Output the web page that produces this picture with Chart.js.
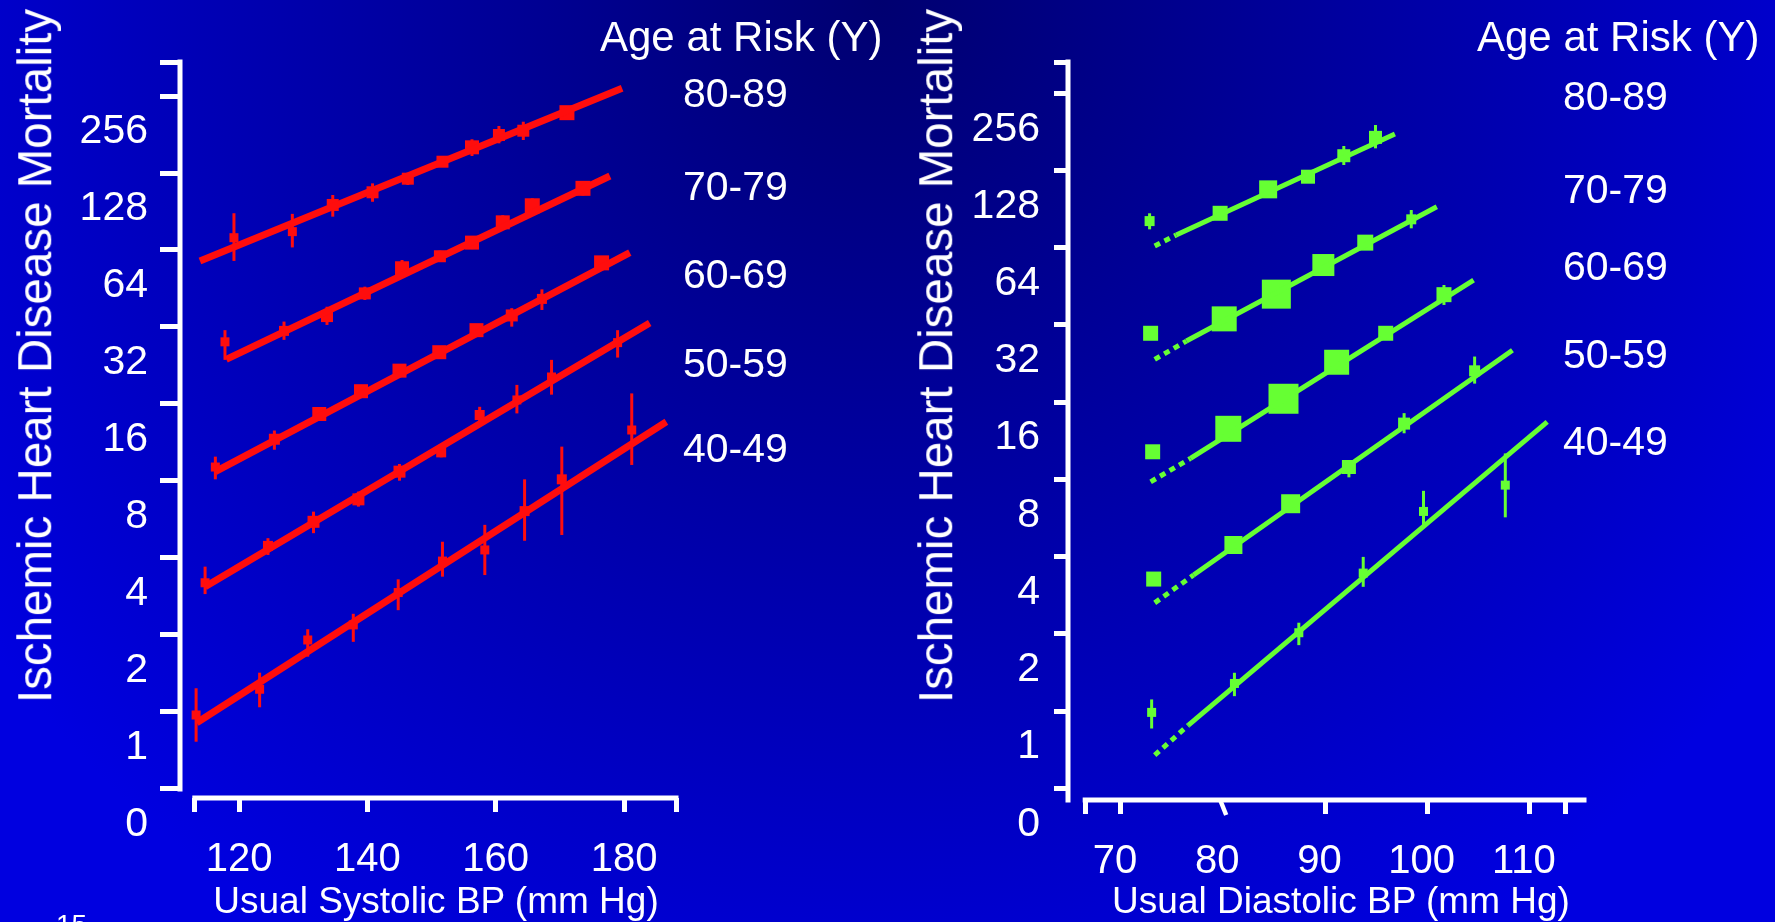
<!DOCTYPE html>
<html>
<head>
<meta charset="utf-8">
<title>Ischemic Heart Disease Mortality vs Usual BP</title>
<script src="https://cdn.jsdelivr.net/npm/chart.js@4.4.1/dist/chart.umd.min.js"></script>
<style>
  html, body { margin: 0; padding: 0; }
  body {
    width: 1775px; height: 922px; overflow: hidden; position: relative;
    background: radial-gradient(circle 1100px at 880px 0px, #000070 0%, #0000e0 100%);
    font-family: 'Liberation Sans', Arial, sans-serif; color: #fff;
  }
  canvas { position: absolute; top: 0; }
  #sbpChart { left: 0; }
  #dbpChart { left: 880px; }
  .lbl { position: absolute; white-space: nowrap; line-height: 1; }
</style>
</head>
<body>
<canvas id="sbpChart" width="700" height="922"></canvas>
<canvas id="dbpChart" width="895" height="922"></canvas>

<script>
// ---- Datos ----
const ageGroups = ['80-89', '70-79', '60-69', '50-59', '40-49'];
const yTickValues = [0.5, 1, 2, 4, 8, 16, 32, 64, 128, 256];
const yTickLabels = ['0', '1', '2', '4', '8', '16', '32', '64', '128', '256'];
const sbpTickValues = [113.1, 120, 140, 160, 180, 188.1];
const sbpTickLabels = ['', '120', '140', '160', '180', ''];
const dbpTickValues = [66.5, 70, 80, 90, 100, 110, 113.5];
const dbpTickLabels = ['', '70', '80', '90', '100', '110', ''];

// Sistolica
const sbp80x = [119.2, 128.3, 134.6, 140.8, 146.3, 151.7, 156.3, 160.5, 164.3, 171.1];
const sbp80y = [71.5, 75.5, 96.0, 107.6, 121.6, 141.7, 161.3, 180.2, 187.3, 220.3];
const sbp80lo = [58.0, 65.5, 86.4, 98.8, 114.9, 135.5, 149.2, 167.2, 172.3, 206.3];
const sbp80hi = [89.1, 88.6, 105.0, 116.6, 127.6, 148.2, 173.4, 195.4, 203.1, 232.5];
const sbp80fitX = [113.9, 179.7];
const sbp80fitY = [58.0, 274.4];

const sbp70x = [117.8, 127.0, 133.7, 139.6, 145.4, 151.3, 156.3, 161.1, 165.7, 173.6];
const sbp70y = [28.0, 30.9, 35.3, 43.3, 54.3, 60.5, 68.4, 82.1, 95.3, 111.5];
const sbp70lo = [23.8, 28.5, 32.6, 40.8, 50.3, 57.5, 64.5, 77.0, 87.7, 104.5];
const sbp70hi = [31.1, 33.6, 38.4, 46.0, 58.5, 63.6, 72.5, 87.5, 101.9, 118.5];
const sbp70fitX = [118.0, 177.8];
const sbp70fitY = [23.9, 124.6];

const sbp60x = [116.3, 125.5, 132.5, 139.0, 145.0, 151.2, 157.0, 162.5, 167.2, 176.5];
const sbp60y = [9.07, 11.65, 14.62, 17.95, 21.6, 25.5, 31.1, 35.5, 41.2, 57.0];
const sbp60lo = [8.12, 10.6, 13.9, 17.0, 20.6, 24.3, 29.6, 32.1, 37.3, 54.0];
const sbp60hi = [9.96, 12.6, 15.4, 19.0, 22.7, 26.8, 32.8, 37.9, 44.9, 60.0];
const sbp60fitX = [116.3, 180.9];
const sbp60fitY = [8.70, 62.5];

const sbp50x = [114.7, 124.5, 131.6, 138.6, 145.0, 151.5, 157.5, 163.3, 168.7, 179.0];
const sbp50y = [3.20, 4.46, 5.54, 6.78, 8.70, 10.35, 14.49, 16.59, 20.4, 27.8];
const sbp50lo = [2.89, 4.11, 5.0, 6.35, 8.02, 9.9, 13.5, 14.7, 17.4, 24.3];
const sbp50hi = [3.70, 4.78, 6.07, 7.27, 9.32, 10.8, 15.6, 19.0, 23.8, 31.1];
const sbp50fitX = [114.7, 184.0];
const sbp50fitY = [3.09, 33.2];

const sbp40x = [113.3, 123.2, 130.7, 137.8, 144.8, 151.7, 158.3, 164.5, 170.3, 181.2];
const sbp40y = [0.973, 1.227, 1.912, 2.19, 2.93, 3.89, 4.30, 6.10, 8.12, 12.66];
const sbp40lo = [0.765, 1.043, 1.645, 1.88, 2.50, 3.38, 3.43, 4.67, 4.92, 9.24];
const sbp40hi = [1.238, 1.424, 2.105, 2.42, 3.30, 4.63, 5.39, 8.12, 10.9, 17.6];
const sbp40fitX = [113.4, 186.6];
const sbp40fitY = [0.908, 13.64];

// Diastolica
const dbp80x = [72.8, 79.7, 84.4, 88.3, 91.8, 94.9];
const dbp80y = [81.3, 87.2, 108.1, 121.1, 146.2, 172.4];
const dbp80lo = [75.5, null, null, null, 134.5, 156.2];
const dbp80hi = [87.2, null, null, null, 159.5, 192.6];
const dbp80dashX = [73.3, 75.4];
const dbp80dashY = [65.0, 71.8];
const dbp80fitX = [75.4, 96.8];
const dbp80fitY = [71.8, 177.7];

const dbp70x = [72.9, 80.1, 85.2, 89.8, 93.9, 98.4];
const dbp70y = [29.7, 33.8, 42.2, 54.8, 67.0, 82.6];
const dbp70lo = [null, null, null, null, null, 76.2];
const dbp70hi = [null, null, null, null, null, 89.8];
const dbp70dashX = [73.3, 76.4];
const dbp70dashY = [23.5, 27.7];
const dbp70fitX = [76.4, 100.9];
const dbp70fitY = [27.7, 92.5];

const dbp60x = [73.1, 80.5, 85.9, 91.1, 95.9, 101.6];
const dbp60y = [10.25, 12.6, 16.5, 22.9, 29.7, 42.0];
const dbp60lo = [null, null, null, null, null, 38.3];
const dbp60hi = [null, null, null, null, null, 45.8];
const dbp60dashX = [72.9, 76.8];
const dbp60dashY = [7.83, 9.66];
const dbp60fitX = [76.8, 104.5];
const dbp60fitY = [9.66, 47.9];

const dbp50x = [73.2, 81.0, 86.6, 92.3, 97.7, 104.6];
const dbp50y = [3.27, 4.44, 6.43, 8.94, 13.2, 21.2];
const dbp50lo = [null, null, null, 8.15, 12.1, 18.9];
const dbp50hi = [null, null, null, 9.37, 14.5, 24.1];
const dbp50dashX = [73.3, 77.1];
const dbp50dashY = [2.64, 3.39];
const dbp50fitX = [77.1, 108.3];
const dbp50fitY = [3.39, 25.5];

const dbp40x = [73.0, 81.1, 87.4, 93.7, 99.6, 107.6];
const dbp40y = [0.988, 1.281, 2.02, 3.45, 6.00, 7.60];
const dbp40lo = [0.855, 1.143, 1.807, 3.05, 5.31, 5.69];
const dbp40hi = [1.110, 1.41, 2.21, 3.99, 7.22, 10.1];
const dbp40dashX = [73.3, 76.6];
const dbp40dashY = [0.673, 0.881];
const dbp40fitX = [76.6, 111.7];
const dbp40fitY = [0.881, 13.4];

// ---- Estilo ----
const RED = '#ff0d0d';
const GREEN = '#66ff33';

Chart.defaults.font.family = "'Liberation Sans', Arial, sans-serif";
Chart.defaults.color = '#fff';
Chart.defaults.animation = false;

function pts(xs, ys) {
    return xs.map((x, i) => ({ x: x, y: ys[i] }));
}

// lineas de los ejes (no se tocan en la esquina)
const axisLines = {
    id: 'axisLines',
    afterDraw(chart, args, opts) {
        const { ctx, chartArea } = chart;
        const xs = chart.scales.x, ys = chart.scales.y;
        ctx.save();
        ctx.strokeStyle = '#fff';
        ctx.lineWidth = 5;
        ctx.beginPath();
        ctx.moveTo(chartArea.left, chartArea.top - 2.5);
        ctx.lineTo(chartArea.left, ys.getPixelForValue(opts.yEnd) + 2.5);
        const x0 = xs.getPixelForValue(xs.ticks[0].value);
        ctx.moveTo(x0 - 2.5, chartArea.bottom);
        ctx.lineTo(chartArea.right + 2.5, chartArea.bottom);
        ctx.stroke();
        if (opts.breakAt != null) {
            const bx = xs.getPixelForValue(opts.breakAt);
            ctx.lineWidth = 4.5;
            ctx.beginPath();
            ctx.moveTo(bx - 3, chartArea.bottom);
            ctx.lineTo(bx + 3, chartArea.bottom + 15);
            ctx.stroke();
        }
        ctx.restore();
    }
};

// barras de error verticales
const errorBars = {
    id: 'errorBars',
    beforeDatasetsDraw(chart) {
        const { ctx } = chart;
        const xs = chart.scales.x, ys = chart.scales.y;
        chart.data.datasets.forEach(ds => {
            if (!ds.errLo) return;
            ctx.save();
            ctx.strokeStyle = ds.backgroundColor;
            ctx.lineWidth = ds.errWidth;
            ds.data.forEach((p, i) => {
                const lo = ds.errLo[i], hi = ds.errHi[i];
                if (lo == null) return;
                const px = xs.getPixelForValue(p.x);
                ctx.beginPath();
                ctx.moveTo(px, ys.getPixelForValue(lo));
                ctx.lineTo(px, ys.getPixelForValue(hi));
                ctx.stroke();
            });
            ctx.restore();
        });
    }
};

function makeChart(id, cfg) {
    const datasets = [];
    cfg.series.forEach(s => {
        if (s.dashX) {
            datasets.push({
                data: pts(s.dashX, s.dashY), showLine: true, borderColor: cfg.color,
                borderWidth: cfg.fitWidth, borderDash: [6, 5], pointRadius: 0
            });
        }
        datasets.push({
            data: pts(s.fitX, s.fitY), showLine: true, borderColor: cfg.color,
            borderWidth: cfg.fitWidth, pointRadius: 0
        });
        datasets.push({
            label: s.label, data: pts(s.x, s.y), errLo: s.lo, errHi: s.hi, errWidth: cfg.errWidth,
            pointStyle: 'rect', pointRadius: s.boxes.map(b => b / Math.SQRT2),
            backgroundColor: cfg.color, borderWidth: 0
        });
    });

    return new Chart(document.getElementById(id), {
        type: 'scatter',
        data: { datasets: datasets },
        plugins: [errorBars, axisLines],
        options: {
            responsive: false,
            events: [],
            layout: { padding: cfg.padding },
            plugins: {
                legend: { display: false },
                tooltip: { enabled: false },
                axisLines: { yEnd: cfg.yEnd, breakAt: cfg.breakAt }
            },
            scales: {
                x: {
                    type: 'linear', min: cfg.xMin, max: cfg.xMax,
                    afterBuildTicks: sc => { sc.ticks = cfg.xTicks.map(v => ({ value: v })); },
                    afterFit: sc => { sc.height = 100; },
                    border: { display: false },
                    grid: {
                        drawOnChartArea: false, tickLength: 14, lineWidth: 5,
                        color: '#fff',
                        tickColor: c => (c.tick && c.tick.value === cfg.breakAt) ? 'rgba(0,0,0,0)' : '#fff'
                    },
                    ticks: {
                        color: '#fff', font: { size: 40 }, padding: 24, labelOffset: cfg.xLabelOffset,
                        maxRotation: 0, autoSkip: false,
                        callback: (v, i) => cfg.xLabels[i]
                    }
                },
                y: {
                    type: 'logarithmic', min: cfg.yMin, max: cfg.yMax,
                    afterBuildTicks: sc => { sc.ticks = yTickValues.concat([cfg.yMax]).map(v => ({ value: v })); },
                    afterFit: sc => { sc.width = cfg.yWidth; },
                    border: { display: false },
                    grid: { drawOnChartArea: false, tickLength: cfg.yTickLen, lineWidth: 5, color: '#fff' },
                    ticks: {
                        color: '#fff', font: { size: 41 }, padding: cfg.yPad, labelOffset: 36,
                        autoSkip: false,
                        callback: (v, i) => (yTickLabels[i] !== undefined ? yTickLabels[i] : '')
                    }
                }
            }
        }
    });
}

makeChart('sbpChart', {
    color: RED, fitWidth: 7, errWidth: 3,
    padding: { top: 62, left: 0, right: 22, bottom: 24 },
    xMin: 110.79, xMax: 188.1, xTicks: sbpTickValues, xLabels: sbpTickLabels, xLabelOffset: 0,
    yMin: 0.4609, yMax: 347.7, yWidth: 180, yTickLen: 20, yPad: 12, yEnd: 0.5,
    series: [
        { label: ageGroups[0], x: sbp80x, y: sbp80y, lo: sbp80lo, hi: sbp80hi, fitX: sbp80fitX, fitY: sbp80fitY,
          boxes: [9, 9, 12, 12, 12, 12, 14, 12, 12, 15] },
        { label: ageGroups[1], x: sbp70x, y: sbp70y, lo: sbp70lo, hi: sbp70hi, fitX: sbp70fitX, fitY: sbp70fitY,
          boxes: [9, 10, 12, 12, 14, 12, 14, 14, 15, 15] },
        { label: ageGroups[2], x: sbp60x, y: sbp60y, lo: sbp60lo, hi: sbp60hi, fitX: sbp60fitX, fitY: sbp60fitY,
          boxes: [9, 11, 14, 14, 14, 14, 14, 12, 10, 15] },
        { label: ageGroups[3], x: sbp50x, y: sbp50y, lo: sbp50lo, hi: sbp50hi, fitX: sbp50fitX, fitY: sbp50fitY,
          boxes: [9, 10, 12, 12, 12, 10, 10, 9, 9, 9] },
        { label: ageGroups[4], x: sbp40x, y: sbp40y, lo: sbp40lo, hi: sbp40hi, fitX: sbp40fitX, fitY: sbp40fitY,
          boxes: [9, 9, 9, 9, 9, 9, 9, 10, 10, 9] }
    ]
});

makeChart('dbpChart', {
    color: GREEN, fitWidth: 5, errWidth: 3,
    padding: { top: 62, left: 0, right: 191, bottom: 22 },
    xMin: 64.817, xMax: 115.3, xTicks: dbpTickValues, xLabels: dbpTickLabels, xLabelOffset: -6,
    yMin: 0.45, yMax: 339.1, yWidth: 188, yTickLen: 14, yPad: 14, yEnd: 0.45, breakAt: 80,
    series: [
        { label: ageGroups[0], x: dbp80x, y: dbp80y, lo: dbp80lo, hi: dbp80hi,
          dashX: dbp80dashX, dashY: dbp80dashY, fitX: dbp80fitX, fitY: dbp80fitY,
          boxes: [10, 15, 18, 14, 13, 13] },
        { label: ageGroups[1], x: dbp70x, y: dbp70y, lo: dbp70lo, hi: dbp70hi,
          dashX: dbp70dashX, dashY: dbp70dashY, fitX: dbp70fitX, fitY: dbp70fitY,
          boxes: [15, 25, 29, 22, 16, 10] },
        { label: ageGroups[2], x: dbp60x, y: dbp60y, lo: dbp60lo, hi: dbp60hi,
          dashX: dbp60dashX, dashY: dbp60dashY, fitX: dbp60fitX, fitY: dbp60fitY,
          boxes: [15, 26, 30, 25, 15, 15] },
        { label: ageGroups[3], x: dbp50x, y: dbp50y, lo: dbp50lo, hi: dbp50hi,
          dashX: dbp50dashX, dashY: dbp50dashY, fitX: dbp50fitX, fitY: dbp50fitY,
          boxes: [15, 18, 19, 14, 12, 11] },
        { label: ageGroups[4], x: dbp40x, y: dbp40y, lo: dbp40lo, hi: dbp40hi,
          dashX: dbp40dashX, dashY: dbp40dashY, fitX: dbp40fitX, fitY: dbp40fitY,
          boxes: [9, 9, 9, 9, 9, 9] }
    ]
});

// ---- Textos (titulos y etiquetas de edad) ----
function addText(txt, x, y, size, transform) {
    const d = document.createElement('div');
    d.className = 'lbl';
    d.textContent = txt;
    d.style.fontSize = size + 'px';
    d.style.left = x + 'px';
    d.style.top = y + 'px';
    d.style.transform = transform;
    document.body.appendChild(d);
}

const yTitle = 'Ischemic Heart Disease Mortality';
addText(yTitle, 35, 356, 47.5, 'translate(-50%, -50%) rotate(-90deg)');
addText(yTitle, 936, 356, 47.5, 'translate(-50%, -50%) rotate(-90deg)');
addText('Usual Systolic BP (mm Hg)', 436, 900, 37, 'translate(-50%, -50%)');
addText('Usual Diastolic BP (mm Hg)', 1341, 900, 37, 'translate(-50%, -50%)');

addText('Age at Risk (Y)', 600, 37, 42, 'translate(0, -50%)');
addText('Age at Risk (Y)', 1477, 37, 42, 'translate(0, -50%)');

const sbpLabelY = [92.5, 186, 274, 362.5, 447.5];
const dbpLabelY = [96, 189, 266, 354, 441];
ageGroups.forEach((g, i) => {
    addText(g, 683, sbpLabelY[i], 41, 'translate(0, -50%)');
    addText(g, 1563, dbpLabelY[i], 41, 'translate(0, -50%)');
});

// numero de diapositiva, cortado abajo
addText('15', 56, 911, 28, 'none');
</script>
</body>
</html>
